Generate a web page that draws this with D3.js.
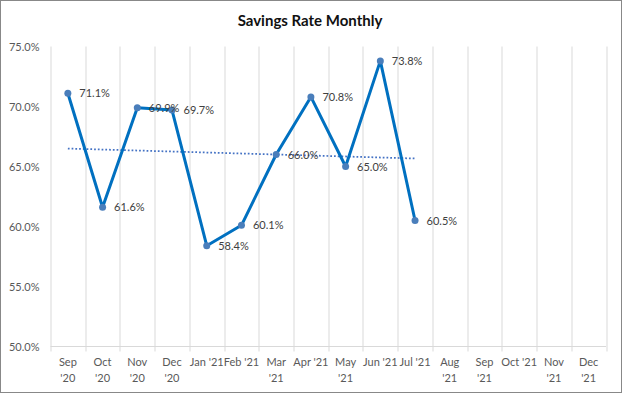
<!DOCTYPE html>
<html>
<head>
<meta charset="utf-8">
<script src="https://cdn.jsdelivr.net/npm/d3@7"></script>
<style>
  html, body { margin: 0; padding: 0; background: #fff; }
  .chart { width: 622px; height: 393px; }
  text { font-family: Lato, "Open Sans", sans-serif; }
</style>
</head>
<body>
<div class="chart"></div>
<script>
// chart data
const months = ["Sep '20", "Oct '20", "Nov '20", "Dec '20", "Jan '21", "Feb '21", "Mar '21", "Apr '21",
    "May '21", "Jun '21", "Jul '21", "Aug '21", "Sep '21", "Oct '21", "Nov '21", "Dec '21"];
const tickLabels = [["Sep", "'20"], ["Oct", "'20"], ["Nov", "'20"], ["Dec", "'20"], ["Jan '21"], ["Feb '21"],
    ["Mar", "'21"], ["Apr '21"], ["May", "'21"], ["Jun '21"], ["Jul '21"], ["Aug", "'21"], ["Sep", "'21"],
    ["Oct '21"], ["Nov", "'21"], ["Dec", "'21"]];
const savingsRate = [71.1, 61.6, 69.9, 69.7, 58.4, 60.1, 66.0, 70.8, 65.0, 73.8, 60.5];
const yTicks = [50, 55, 60, 65, 70, 75];

const W = 622, H = 393;
const margin = { top: 46.5, right: 16, bottom: 46.5, left: 50.5 };
const width = W - margin.left - margin.right;
const height = H - margin.top - margin.bottom;

const svg = d3.select(".chart").append("svg")
    .attr("width", W)
    .attr("height", H);

// outer border
svg.append("rect")
    .attr("x", 0.5).attr("y", 0.5)
    .attr("width", W - 1).attr("height", H - 1)
    .attr("fill", "#fff")
    .attr("stroke", "#888");

svg.append("text")
    .attr("x", W / 2 - 1).attr("y", 26)
    .attr("text-anchor", "middle")
    .attr("font-size", 15)
    .attr("font-weight", "bold")
    .attr("fill", "#111")
    .text("Savings Rate Monthly");

const g = svg.append("g")
    .attr("transform", "translate(" + margin.left + "," + margin.top + ")");

const x = d3.scaleBand().domain(months).range([0, width]);
const y = d3.scaleLinear().domain([50, 75]).range([height, 0]);

// vertical gridlines at category boundaries
const bounds = months.map(m => x(m)).concat([width]);
g.selectAll(".vgrid")
    .data(bounds)
    .join("line")
    .attr("x1", d => Math.round(d) + 0.5).attr("x2", d => Math.round(d) + 0.5)
    .attr("y1", 0).attr("y2", height + 5)
    .attr("stroke", "#d9d9d9")
    .attr("stroke-width", 1);

// x axis line
g.append("line")
    .attr("x1", 0).attr("x2", width)
    .attr("y1", height).attr("y2", height)
    .attr("stroke", "#d9d9d9");

// y axis labels
g.selectAll(".ylab")
    .data(yTicks)
    .join("text")
    .attr("x", -11)
    .attr("y", d => y(d) + 4)
    .attr("text-anchor", "end")
    .attr("font-size", 11)
    .attr("fill", "#595959")
    .text(d => d.toFixed(1) + "%");

// x tick labels
const xl = g.selectAll(".xlab")
    .data(months)
    .join("text")
    .attr("x", d => x(d) + x.bandwidth() / 2)
    .attr("y", height + 19.5)
    .attr("text-anchor", "middle")
    .attr("font-size", 11)
    .attr("fill", "#595959");

xl.selectAll("tspan")
    .data((d, i) => tickLabels[i])
    .join("tspan")
    .attr("x", function () { return this.parentNode.getAttribute("x"); })
    .attr("dy", (d, i) => i === 0 ? 0 : 15.5)
    .text(d => d);

const pts = savingsRate.map((v, i) => ({ m: months[i], i: i, v: v }));
const cx = d => x(d.m) + x.bandwidth() / 2;

// linear trendline from the data
const n = pts.length;
const mx = d3.mean(pts, d => d.i), my = d3.mean(pts, d => d.v);
const slope = d3.sum(pts, d => (d.i - mx) * (d.v - my)) / d3.sum(pts, d => (d.i - mx) * (d.i - mx));
const trend = [pts[0], pts[n - 1]].map(d => ({ m: d.m, v: my + slope * (d.i - mx) }));

g.append("path")
    .datum(trend)
    .attr("fill", "none")
    .attr("stroke", "#4472c4")
    .attr("stroke-width", 1.75)
    .attr("stroke-dasharray", "1.75,2")
    .attr("d", d3.line().x(cx).y(d => y(d.v)));

g.append("path")
    .datum(pts)
    .attr("fill", "none")
    .attr("stroke", "#0070c0")
    .attr("stroke-width", 3)
    .attr("stroke-linejoin", "round")
    .attr("d", d3.line().x(cx).y(d => y(d.v)));

g.selectAll(".dot")
    .data(pts)
    .join("circle")
    .attr("cx", cx)
    .attr("cy", d => y(d.v))
    .attr("r", 3.5)
    .attr("fill", "#4a7ebb");

g.selectAll(".lab")
    .data(pts)
    .join("text")
    .attr("x", d => cx(d) + 11.5)
    .attr("y", d => y(d.v) + 4)
    .attr("font-size", 11)
    .attr("fill", "#404040")
    .text(d => d.v.toFixed(1) + "%");
</script>
</body>
</html>
